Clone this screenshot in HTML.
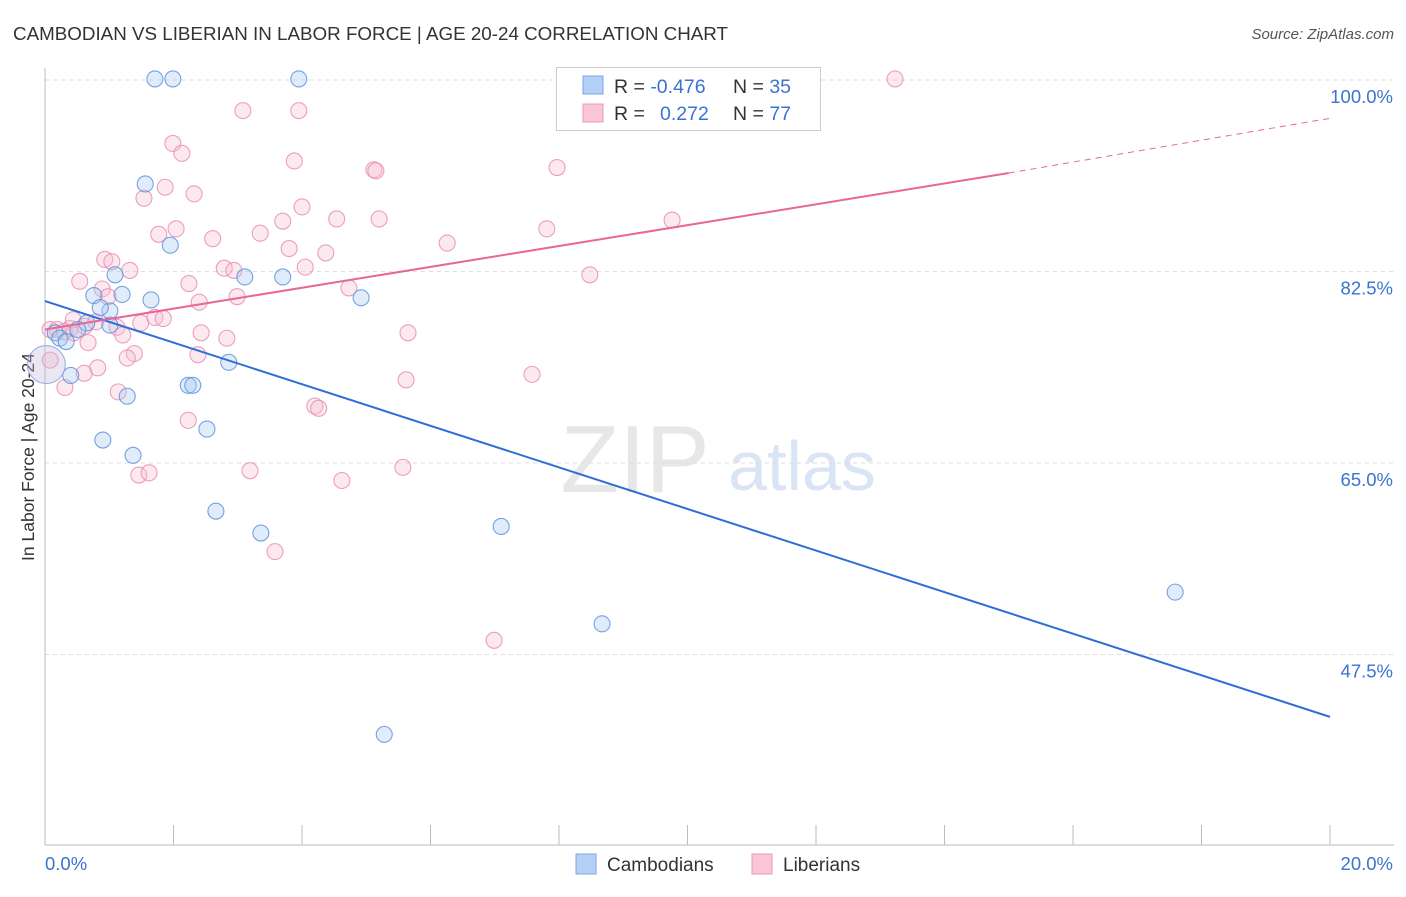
<!DOCTYPE html>
<html><head><meta charset="utf-8">
<style>
body{margin:0;background:#fff;font-family:"Liberation Sans",sans-serif;}
svg text{font-family:"Liberation Sans",sans-serif;}
</style></head>
<body>
<svg id="chart" width="1406" height="892" xmlns="http://www.w3.org/2000/svg">
<text x="13" y="40" font-size="18.8" fill="#333" textLength="715">CAMBODIAN VS LIBERIAN IN LABOR FORCE | AGE 20-24 CORRELATION CHART</text>
<text x="1394" y="39" font-size="15" fill="#555" font-style="italic" text-anchor="end">Source: ZipAtlas.com</text>
<text transform="translate(34,457) rotate(-90)" font-size="17.5" fill="#333" text-anchor="middle">In Labor Force | Age 20-24</text>
<g>
<text x="635" y="492" font-size="96" fill="#ddd" font-family="Liberation Serif" text-anchor="middle" opacity="0.7">ZIP</text>
<text x="802" y="490" font-size="70" fill="#c9daf2" text-anchor="middle" opacity="0.7">atlas</text>
</g>
<g id="grid"></g>
<g id="axes"></g>
<g id="marks"></g>
<g>
<rect x="556.5" y="67.5" width="264" height="63" fill="#fff" stroke="#ccc"/>
<rect x="583" y="76" width="20" height="18" fill="#b5d0f5" stroke="#7aa6e6"/>
<rect x="583" y="104" width="20" height="18" fill="#f9c6d6" stroke="#eb9bb6"/>
<text x="614" y="93" font-size="19.5" fill="#333">R = <tspan fill="#3a73d1">-0.476</tspan><tspan x="733">N = </tspan><tspan fill="#3a73d1">35</tspan></text>
<text x="614" y="120" font-size="19.5" fill="#333">R = <tspan x="660" fill="#3a73d1">0.272</tspan><tspan x="733">N = </tspan><tspan fill="#3a73d1">77</tspan></text>
</g>
<g>
<rect x="576" y="854" width="20" height="20" fill="#b5d0f5" stroke="#7aa6e6"/>
<text x="607" y="871" font-size="19" fill="#333">Cambodians</text>
<rect x="752" y="854" width="20" height="20" fill="#f9c6d6" stroke="#eb9bb6"/>
<text x="783" y="871" font-size="19" fill="#333">Liberians</text>
</g>
</svg>
<script>
const yTicks=[100,82.5,65,47.5];
const yTickLabels=["100.0%","82.5%","65.0%","47.5%"];
const xTickLabels=["0.0%","20.0%"];
const camX=[1.71,1.99,3.95,1.56,1.95,1.09,3.11,3.70,0.76,1.20,1.65,4.92,1.01,0.86,0.65,0.51,0.16,0.23,0.33,0.40,2.86,2.23,2.30,1.28,2.52,0.90,1.37,2.66,3.36,7.10,17.59,8.67,5.28,1.01];
const camY=[100.1,100.1,100.1,90.5,84.9,82.2,82.0,82.0,80.3,80.4,79.9,80.1,78.9,79.2,77.8,77.2,76.9,76.4,76.1,73.0,74.2,72.1,72.1,71.1,68.1,67.1,65.7,60.6,58.6,59.2,53.2,50.3,40.2,77.6];
const camBigX=[0.02], camBigY=[74.0];
const libX=[10.82,13.23,3.08,3.95,1.99,2.13,3.88,5.12,5.15,7.97,1.87,2.32,1.54,4.00,3.70,4.54,5.20,9.76,2.04,1.77,3.35,7.81,2.61,6.26,3.80,4.37,0.93,1.04,1.32,2.79,2.94,4.05,0.54,2.24,8.48,0.89,4.73,2.99,2.40,0.98,1.71,1.84,0.08,0.19,0.39,0.44,0.30,0.62,0.79,1.49,1.12,0.45,0.67,1.21,2.43,2.83,5.65,1.39,1.28,2.38,0.61,0.82,5.62,7.58,0.31,1.14,4.20,4.26,2.23,3.19,5.57,1.46,1.62,4.62,3.58,6.99,0.08];
const libY=[100.0,100.1,97.2,97.2,94.2,93.3,92.6,91.8,91.7,92.0,90.2,89.6,89.2,88.4,87.1,87.3,87.3,87.2,86.4,85.9,86.0,86.4,85.5,85.1,84.6,84.2,83.6,83.4,82.6,82.8,82.6,82.9,81.6,81.4,82.2,80.9,81.0,80.2,79.7,80.2,78.3,78.2,77.2,77.2,77.3,78.1,77.0,77.5,77.9,77.8,77.4,76.9,76.0,76.7,76.9,76.4,76.9,75.0,74.6,74.9,73.2,73.7,72.6,73.1,71.9,71.5,70.2,70.0,68.9,64.3,64.6,63.9,64.1,63.4,56.9,48.8,74.4];
const camTrend=[79.8,41.8];
const libTrend=[77.2,91.5,96.5];
const libTrendX=[0,15.0,20];

const NS="http://www.w3.org/2000/svg";
const X=v=>45+v/20*1285;
const Y=v=>80+(100-v)/17.5*191.5;
function mk(tag,attrs,parent){const e=document.createElementNS(NS,tag);for(const k in attrs)e.setAttribute(k,attrs[k]);parent.appendChild(e);return e;}
const grid=document.getElementById('grid'),axes=document.getElementById('axes'),marks=document.getElementById('marks');
yTicks.forEach((t,i)=>{
 const l=mk('line',{x1:45,x2:1394,y1:Y(t),y2:Y(t),stroke:'#ddd','stroke-dasharray':'4,4'},grid);
 
 
 const tx=mk('text',{x:1393,y:Y(t)+23,'font-size':18.5,fill:'#3a73d1','text-anchor':'end'},axes);
 tx.textContent=yTickLabels[i];
 
 
});
let a=mk('line',{x1:45,x2:45,y1:68,y2:845,stroke:'#bbb'},axes);


a=mk('line',{x1:45,x2:1394,y1:845,y2:845,stroke:'#bbb'},axes);


for(let i=0;i<=10;i++){
 const t=mk('line',{x1:X(i*2),x2:X(i*2),y1:825,y2:845,stroke:'#bbb'},axes);
 
 
}
[0,20].forEach((v,i)=>{
 const tx=mk('text',{x:i?1393:45,y:870,'font-size':18.5,fill:'#3a73d1','text-anchor':i?'end':'start'},axes);
 tx.textContent=xTickLabels[i];
 
 
});
function dot(x,y,r,fill,stroke,name){
 const c=mk('circle',{cx:X(x),cy:Y(y),r:r,fill:fill,'fill-opacity':0.35,stroke:stroke,'stroke-width':1.1,'stroke-opacity':0.85},marks);
 
 
}
libX.forEach((x,i)=>dot(x,libY[i],8,'#f7bfd1','#e98fb0','liberian-point'));
camX.forEach((x,i)=>dot(x,camY[i],8,'#aac9f2','#5e93de','cambodian-point'));
camBigX.forEach((x,i)=>dot(x,camBigY[i],19,'#c7b8dd','#8fa6dd','cambodian-point-large'));
let ln=mk('line',{x1:X(0),y1:Y(camTrend[0]),x2:X(20),y2:Y(camTrend[1]),stroke:'#2e6fd6','stroke-width':2},marks);


ln=mk('line',{x1:X(libTrendX[0]),y1:Y(libTrend[0]),x2:X(libTrendX[1]),y2:Y(libTrend[1]),stroke:'#e8669a','stroke-width':2},marks);


ln=mk('line',{x1:X(libTrendX[1]),y1:Y(libTrend[1]),x2:X(libTrendX[2]),y2:Y(libTrend[2]),stroke:'#e8669a','stroke-width':1,'stroke-dasharray':'6,5'},marks);


</script>
</body></html>
